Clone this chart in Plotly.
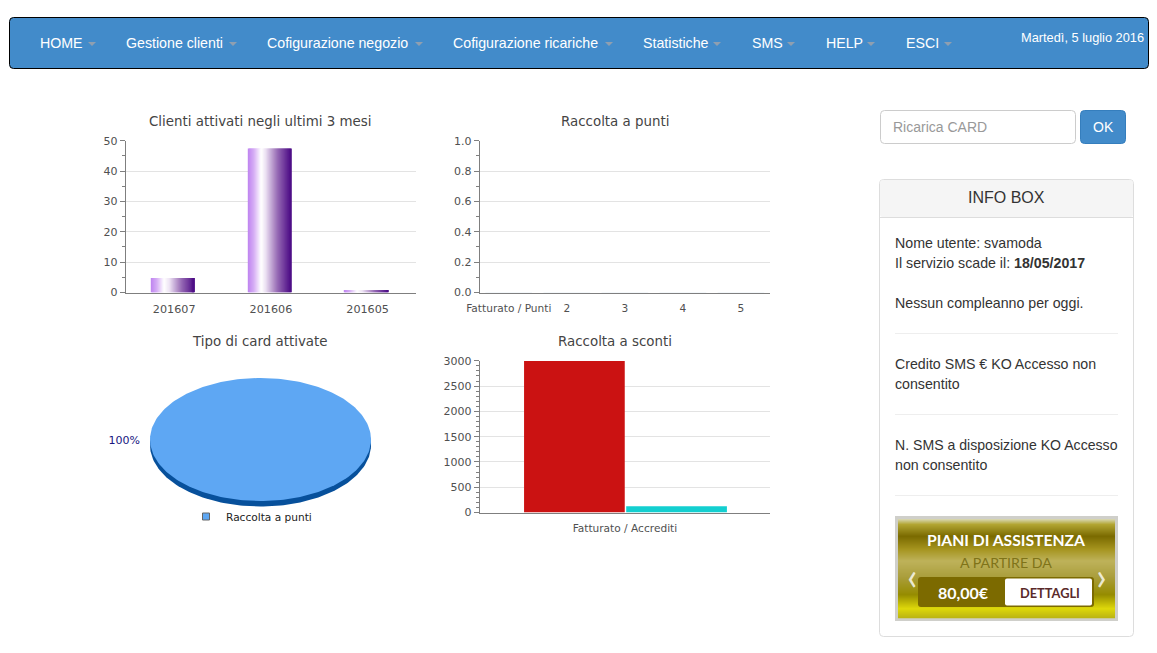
import numpy as np
import plotly.graph_objects as go

W, H = 1157, 653

# ---- data ----
months = ["201607", "201606", "201605"]
clienti = [4.8, 47.5, 0.8]
punti_labels = ["Fatturato / Punti", "2", "3", "4", "5"]
punti_values = [0, 0, 0, 0, 0]
card_types = ["Raccolta a punti"]
card_share = [100]
sconti_labels = ["Fatturato / Accrediti"]
fatturato = [2995]
accrediti = [125]
nav_items = ["HOME", "Gestione clienti", "Cofigurazione negozio", "Cofigurazione ricariche",
             "Statistiche", "SMS", "HELP", "ESCI"]

# ---- pixel helpers ----
px = lambda x: x / W
py = lambda y: 1 - y / H

GRID = "#e3e3e3"
AXIS = "#7f7f7f"
TXT = "#505050"
CHART_FONT = "DejaVu Sans"
WEB_FONT = "Liberation Sans"

fig = go.Figure()
shapes, annos = [], []


def rrect(x0, y0, x1, y1, r, fill, line=None, lw=1):
    X0, X1, Y0, Y1 = px(x0), px(x1), py(y0), py(y1)
    rx, ry = r / W, r / H
    path = (f"M{X0 + rx},{Y0} L{X1 - rx},{Y0} Q{X1},{Y0} {X1},{Y0 - ry} "
            f"L{X1},{Y1 + ry} Q{X1},{Y1} {X1 - rx},{Y1} L{X0 + rx},{Y1} "
            f"Q{X0},{Y1} {X0},{Y1 + ry} L{X0},{Y0 - ry} Q{X0},{Y0} {X0 + rx},{Y0} Z")
    shapes.append(dict(type="path", xref="paper", yref="paper", path=path, fillcolor=fill,
                       line=dict(color=line or "rgba(0,0,0,0)", width=lw if line else 0)))


def rect(x0, y0, x1, y1, fill):
    shapes.append(dict(type="rect", xref="paper", yref="paper", x0=px(x0), x1=px(x1),
                       y0=py(y0), y1=py(y1), fillcolor=fill, line=dict(width=0)))


def text(x, y, s, size=14.2, color="#333333", anchor="left", font=WEB_FONT):
    annos.append(dict(x=px(x), y=py(y), xref="paper", yref="paper", text=s, showarrow=False,
                      xanchor=anchor, yanchor="middle", borderpad=0, borderwidth=0,
                      font=dict(family=font, size=size, color=color)))


def lerp_color(t, stops):
    for (a, ca), (b, cb) in zip(stops, stops[1:]):
        if t <= b:
            f = (t - a) / (b - a)
            return "rgb(%d,%d,%d)" % tuple(round(ca[i] + (cb[i] - ca[i]) * f) for i in range(3))
    return "rgb(%d,%d,%d)" % stops[-1][1]


def axis_pair(n, x0, x1, y0, y1, yrange, dtick, minor, categories=None, tickformat=None, xsize=10.6):
    sx = "" if n == 1 else str(n)
    fig.update_layout({
        f"xaxis{sx}": dict(domain=[px(x0), px(x1)], anchor=f"y{sx}", type="category", automargin=False,
                           categoryorder="array", categoryarray=categories,
                           range=[-0.5, len(categories) - 0.5], showgrid=False, zeroline=False,
                           showline=True, linecolor=AXIS, linewidth=1, ticks="outside",
                           ticklen=6, tickcolor="rgba(0,0,0,0)", fixedrange=True,
                           tickfont=dict(family=CHART_FONT, size=xsize, color=TXT)),
        f"yaxis{sx}": dict(domain=[py(y1), py(y0)], anchor=f"x{sx}", range=yrange, dtick=dtick, automargin=False,
                           showgrid=True, gridcolor=GRID, gridwidth=1, zeroline=False, tickformat=tickformat,
                           showline=True, linecolor=AXIS, linewidth=1, ticks="outside",
                           ticklen=5, tickcolor=AXIS, fixedrange=True,
                           minor=dict(dtick=minor, ticks="outside", ticklen=3, tickcolor=AXIS, showgrid=False),
                           tickfont=dict(family=CHART_FONT, size=11, color=TXT)),
    })


# ---- chart 1: gradient bars, built from vertical slices of each bar ----
stops = [(0.0, (190, 132, 240)), (0.14, (215, 175, 245)), (0.30, (255, 255, 255)),
         (0.42, (238, 228, 244)), (0.70, (150, 105, 180)), (1.0, (75, 10, 133))]
N = 44
BAR_W = 0.45
BAR_SHIFT = -0.012
for i in range(N):
    fig.add_trace(go.Bar(x=months, y=clienti, xaxis="x", yaxis="y",
                         width=BAR_W / N * 1.15, offset=BAR_SHIFT - BAR_W / 2 + i * BAR_W / N,
                         marker=dict(color=lerp_color((i + 0.5) / N, stops), line=dict(width=0)),
                         showlegend=False, hoverinfo="skip"))
axis_pair(1, 125.8, 416, 140.8, 292.5, [0, 50], 10, 5, months, xsize=11.2)

# ---- chart 2: empty bars ----
fig.add_trace(go.Bar(x=punti_labels, y=punti_values, xaxis="x2", yaxis="y2", showlegend=False,
                     marker=dict(color="#5ea7f3"), hoverinfo="skip"))
axis_pair(2, 479.8, 770, 140.8, 292.5, [0, 1], 0.2, 0.1, punti_labels, tickformat=".1f")

# ---- chart 3: tilted pie, unit circle drawn on stretched hidden axes ----
CX, CY, RX, RY, DEPTH = 260.5, 439.5, 110.5, 61.5, 5.5
X0, X1, Y0, Y1 = 100, 420, 350, 530
theta = np.linspace(0, 2 * np.pi * card_share[0] / sum(card_share), 241)
fig.update_layout(
    xaxis3=dict(domain=[px(X0), px(X1)], anchor="y3", visible=False, fixedrange=True, automargin=False,
                range=[(X0 - CX) / RX, (X1 - CX) / RX]),
    yaxis3=dict(domain=[py(Y1), py(Y0)], anchor="x3", visible=False, fixedrange=True, automargin=False,
                range=[(CY - Y1) / RY, (CY - Y0) / RY]),
)
fig.add_trace(go.Scatter(x=np.cos(theta), y=np.sin(theta) - DEPTH / RY, xaxis="x3", yaxis="y3",
                         mode="lines", fill="toself", fillcolor="#07509b", line=dict(color="#07509b", width=0),
                         showlegend=False, hoverinfo="skip"))
fig.add_trace(go.Scatter(x=np.cos(theta), y=np.sin(theta), xaxis="x3", yaxis="y3",
                         mode="lines", fill="toself", fillcolor="#5ea7f3", line=dict(color="#5ea7f3", width=0),
                         showlegend=False, hoverinfo="skip"))
fig.add_trace(go.Scatter(x=[-1.09], y=[-0.025], xaxis="x3", yaxis="y3", mode="text",
                         text=[f"{card_share[0]}%"], textposition="middle left",
                         textfont=dict(family=CHART_FONT, size=11, color="#17177f"),
                         showlegend=False, hoverinfo="skip"))
fig.add_trace(go.Scatter(x=[None], y=[None], xaxis="x3", yaxis="y3", mode="markers", name=card_types[0],
                         marker=dict(symbol="square", size=7, color="#5ea7f3", line=dict(color="#666666", width=1))))

# ---- chart 4 ----
fig.add_trace(go.Bar(x=sconti_labels, y=fatturato, xaxis="x4", yaxis="y4", width=0.347, offset=-0.3475,
                     marker=dict(color="#cb1212", line=dict(width=0)), showlegend=False, hoverinfo="skip"))
fig.add_trace(go.Bar(x=sconti_labels, y=accrediti, xaxis="x4", yaxis="y4", width=0.347, offset=0.0045,
                     marker=dict(color="#13cfd0", line=dict(width=0)), showlegend=False, hoverinfo="skip"))
axis_pair(4, 479.8, 770, 360.8, 512.5, [0, 3000], 500, 100, sconti_labels)

# chart titles
for x, y, s in [(260, 121, "Clienti attivati negli ultimi 3 mesi"), (615.5, 121, "Raccolta a punti"),
                (260, 341, "Tipo di card attivate"), (615, 341, "Raccolta a sconti")]:
    text(x, y, s, size=13.4, color="#444444", anchor="center", font=CHART_FONT)

# ---- navbar ----
rrect(9.5, 17.5, 1148.5, 68.5, 4, "#428bca", "#000000", 1)
nav_x = [40, 126, 267, 453, 643, 752, 826, 906]
caret_x = [88, 229, 415, 605, 713, 787, 867, 944]
for s, x, c in zip(nav_items, nav_x, caret_x):
    text(x, 43, s, color="#ffffff")
    X = px(c); X2 = px(c + 8); Xm = px(c + 4)
    shapes.append(dict(type="path", xref="paper", yref="paper",
                       path=f"M{X},{py(42)} L{X2},{py(42)} L{Xm},{py(46)} Z",
                       fillcolor="#8f9fb0", line=dict(width=0)))
text(1144, 38, "Martedì, 5 luglio 2016", size=12.8, color="#ffffff", anchor="right")

# ---- recharge form ----
rrect(880.5, 110.5, 1075.5, 143.5, 4, "#ffffff", "#cccccc", 1)
text(893, 127, "Ricarica CARD", size=14, color="#999999")
rrect(1080.5, 110.5, 1125.5, 143.5, 4, "#428bca", "#357ebd", 1)
text(1103, 127, "OK", size=14, color="#ffffff", anchor="center")

# ---- info panel ----
rrect(879.5, 179.5, 1133.5, 636.5, 4, "#ffffff", "#dddddd", 1)
rrect(880, 180, 1133, 217, 3, "#f5f5f5")
rect(880, 217, 1133, 218, "#dddddd")
text(1006.5, 198, "INFO BOX", size=16, color="#333333", anchor="center")
text(895, 243, "Nome utente: svamoda")
text(895, 263, "Il servizio scade il: <b>18/05/2017</b>")
text(895, 303, "Nessun compleanno per oggi.")
text(895, 364, "Credito SMS € KO Accesso non")
text(895, 384, "consentito")
text(895, 445, "N. SMS a disposizione KO Accesso", size=14.1)
text(895, 465, "non consentito")
for y in (333, 414, 495):
    rect(895, y, 1118, y + 1, "#eeeeee")

# ---- banner ----
rect(895, 516, 1118, 621, "#cfcfca")
band = [(0.0, (214, 212, 170)), (0.05, (178, 165, 50)), (0.17, (122, 106, 0)), (0.30, (165, 148, 30)),
        (0.42, (190, 178, 90)), (0.58, (170, 158, 60)), (0.76, (150, 140, 0)), (0.90, (222, 216, 10)),
        (1.0, (185, 178, 20))]
for y in range(519, 618):
    rect(898, y, 1115, y + 1.3, lerp_color((y - 519) / 99, band))
rrect(918, 577, 1094, 607, 3, "#7c6a00")
rrect(1005, 578.5, 1092, 605.5, 2, "#ffffff")
text(1006, 540, "<b>PIANI DI ASSISTENZA</b>", size=15.7, color="#ffffff", anchor="center", font="Lato")
text(1006, 562, "A PARTIRE DA", size=14.2, color="#7f7318", anchor="center", font="Lato")
text(963.5, 592.5, "<b>80,00€</b>", size=16, color="#ffffff", anchor="center", font="Lato")
text(1049.5, 592.5, "<b>DETTAGLI</b>", size=12.8, color="#5a2a2a", anchor="center", font="Lato")
text(912, 575, "‹", size=38, color="rgba(255,255,255,0.8)", anchor="center", font="Lato")
text(1101, 575, "›", size=38, color="rgba(255,255,255,0.8)", anchor="center", font="Lato")

fig.update_layout(
    width=W, height=H, autosize=False, margin=dict(l=0, r=0, t=0, b=0, pad=0),
    paper_bgcolor="#ffffff", plot_bgcolor="rgba(0,0,0,0)", barmode="overlay",
    shapes=shapes, annotations=annos, hovermode=False,
    legend=dict(x=px(186), y=py(502), xanchor="left", yanchor="top", bgcolor="rgba(0,0,0,0)",
                font=dict(family=CHART_FONT, size=10.6, color="#222222")),
)

fig.write_html("out.html", config=dict(displayModeBar=False),
               post_script="document.body.style.margin='0';document.body.style.overflow='hidden';")
